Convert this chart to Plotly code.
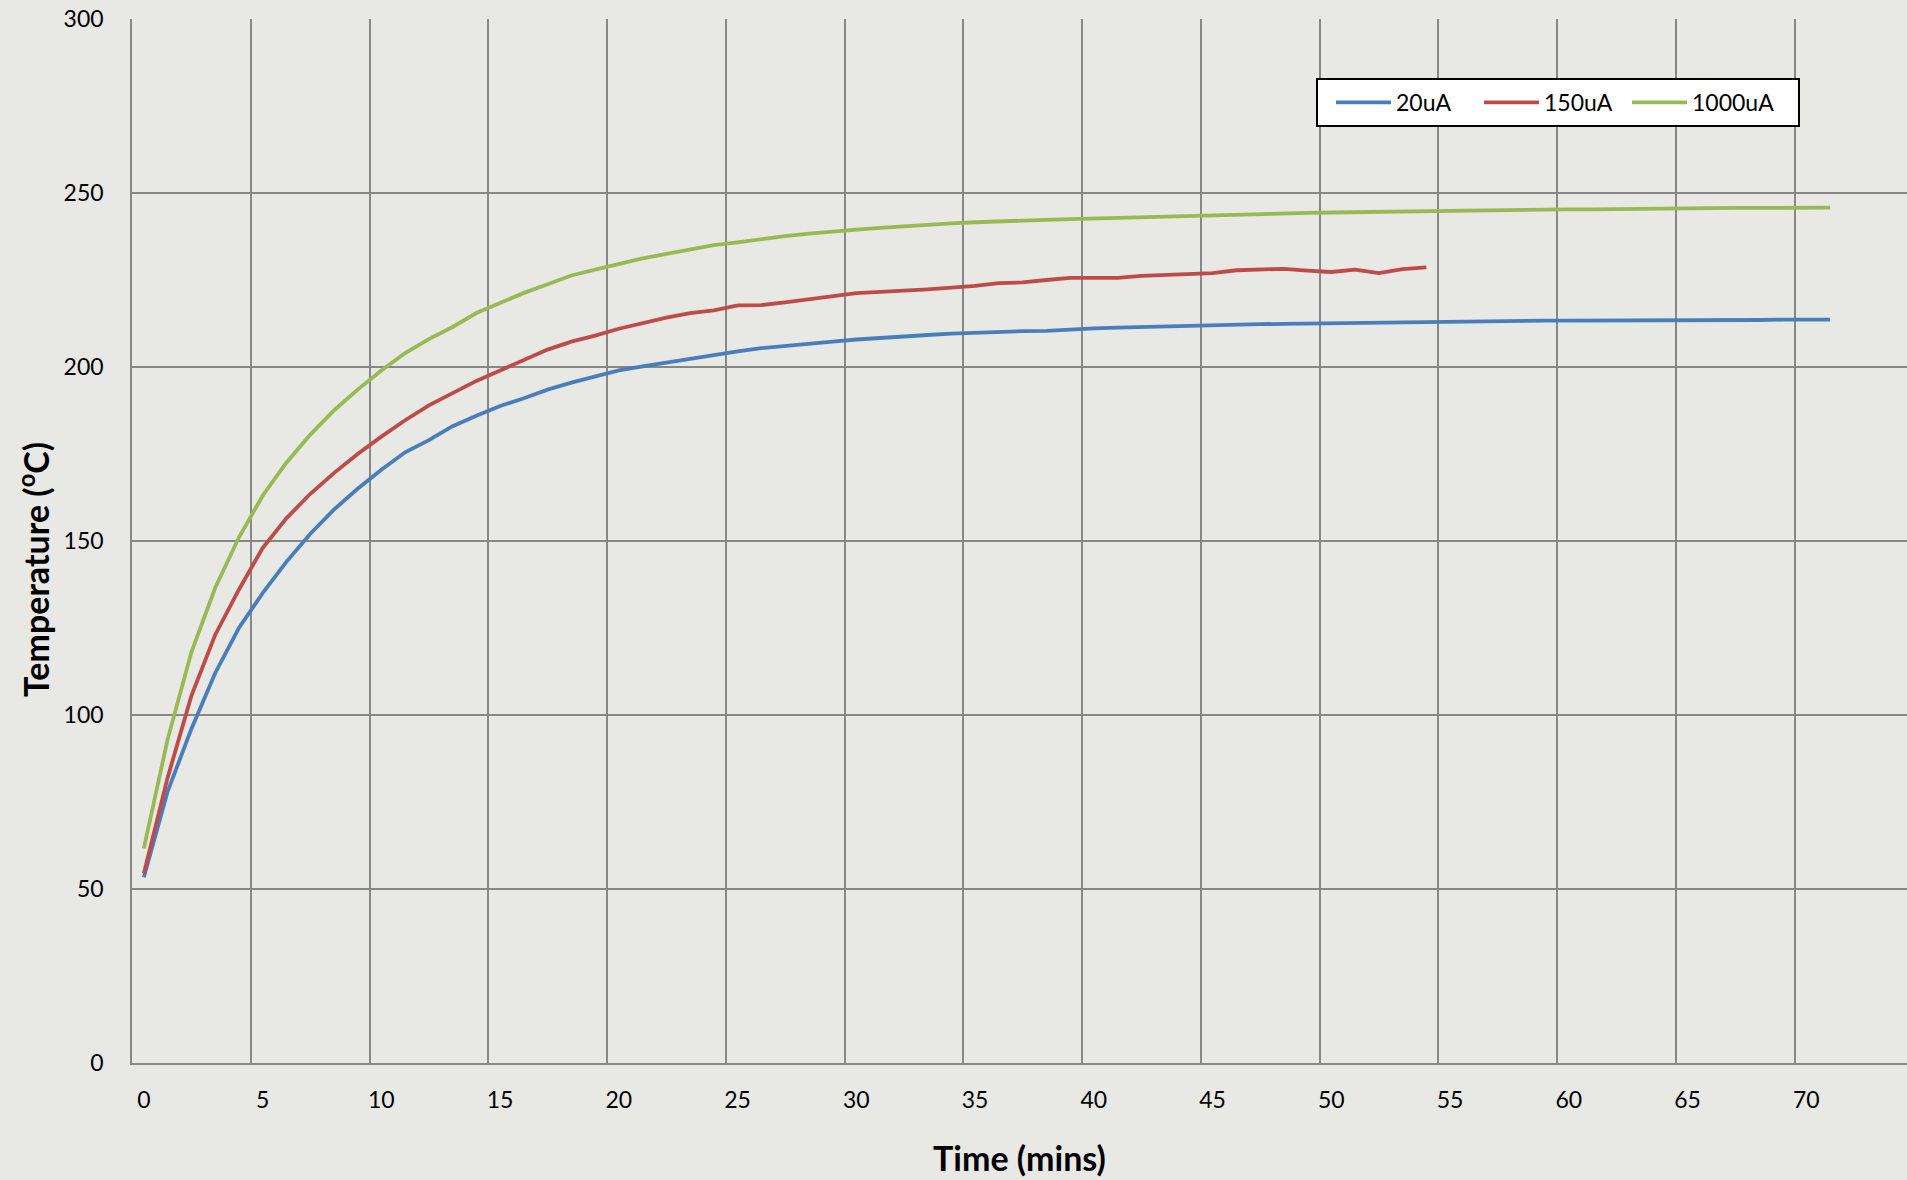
import plotly.graph_objects as go

minutes_20 = list(range(0, 72))
temp_20uA = [53.4, 78, 96, 112, 125, 135, 144, 152, 159, 165,
             170.5, 175.5, 179, 183, 186, 188.8, 191, 193.5, 195.5, 197.3,
             199, 200.2, 201.3, 202.5, 203.5, 204.5, 205.4, 206.1, 206.8, 207.3,
             207.9, 208.4, 208.8, 209.2, 209.6, 209.9, 210.1, 210.3, 210.4, 210.8,
             211.1, 211.3, 211.5, 211.7, 211.9, 212.1, 212.2, 212.3, 212.4, 212.5,
             212.6, 212.7, 212.8, 212.9, 212.9, 213.0, 213.0, 213.1, 213.2, 213.3,
             213.3, 213.3, 213.4, 213.4, 213.4, 213.5, 213.5, 213.5, 213.5, 213.6,
             213.6, 213.6]

minutes_150 = list(range(0, 55))
temp_150uA = [54.5, 82, 105.5, 123, 136, 148, 156.5, 163.5, 169.5, 175,
              180, 184.7, 189, 192.5, 196, 199, 202, 205, 207.3, 209,
              211, 212.7, 214.2, 215.5, 216.3, 217.7, 217.8, 218.6, 219.5, 220.3,
              221.2, 221.6, 221.9, 222.3, 222.8, 223.3, 224.1, 224.3, 225.0, 225.6,
              225.6, 225.6, 226.2, 226.4, 226.6, 227.0, 227.8, 228.1, 228.2, 227.7,
              227.3, 228.0, 227.0, 228.1, 228.6]

minutes_1000 = list(range(0, 72))
temp_1000uA = [61.7, 93, 118, 136.5, 151, 163, 172.5, 180.5, 187.5, 193.5,
               199, 204, 208, 211.5, 215.5, 218.5, 221.3, 223.8, 226.3, 228,
               229.6, 231.2, 232.5, 233.8, 235, 235.8, 236.8, 237.6, 238.3, 239,
               239.5, 240, 240.5, 240.9, 241.3, 241.6, 241.9, 242.1, 242.3, 242.5,
               242.7, 242.9, 243.1, 243.3, 243.5, 243.7, 243.8, 244, 244.1, 244.3,
               244.4, 244.5, 244.6, 244.8, 244.9, 245, 245, 245.1, 245.2, 245.2,
               245.3, 245.3, 245.4, 245.4, 245.5, 245.6, 245.6, 245.7, 245.7, 245.8,
               245.8, 245.8]

x_tick_values = list(range(0, 75, 5))
x_tick_labels = [str(v) for v in x_tick_values]
y_tick_values = [0, 50, 100, 150, 200, 250, 300]

series = [
    ("20uA", minutes_20, temp_20uA, "#4A7EBB"),
    ("150uA", minutes_150, temp_150uA, "#BE4B48"),
    ("1000uA", minutes_1000, temp_1000uA, "#98B954"),
]

BG = "#e8e8e5"
GRID = "#878787"
FONT = "Lato, 'Open Sans', sans-serif"

fig = go.Figure()
for name, xs, ys, color in series:
    fig.add_trace(go.Scatter(x=xs, y=ys, mode="lines", name=name,
                             line=dict(color=color, width=3.8)))

W, H = 1907, 1180
ml, mt, mb, mr = 132, 19, 117, 0
PW, PH = W - ml - mr, H - mt - mb
cat_px = 23.75
x_max = -0.5 + PW / cat_px


def px_x(p):
    return (p - ml) / PW


def px_y(p):
    return (H - mb - p) / PH


fig.update_layout(
    width=W, height=H,
    margin=dict(l=ml, r=mr, t=mt, b=mb, pad=0),
    paper_bgcolor=BG, plot_bgcolor=BG,
    font=dict(family=FONT, size=23, color="black"),
    showlegend=True,
    legend=dict(
        orientation="h",
        x=px_x(1331), y=px_y(81),
        xanchor="left", yanchor="top",
        bgcolor="rgba(0,0,0,0)", borderwidth=0,
        font=dict(family=FONT, size=23, color="black"),
        itemwidth=55,
        entrywidth=78, entrywidthmode="pixels",
    ),
    shapes=[dict(
        type="rect", xref="paper", yref="paper",
        x0=px_x(1317), x1=px_x(1799), y0=px_y(126), y1=px_y(79),
        fillcolor="white", line=dict(color="black", width=2), layer="above",
    )],
    xaxis=dict(
        range=[-0.5, x_max],
        tickmode="array", tickvals=x_tick_values, ticktext=x_tick_labels,
        showgrid=False, zeroline=False,
        showline=True, linecolor=GRID, linewidth=1.5,
        ticks="", ticklabelstandoff=16,
        tickfont=dict(family=FONT, size=23, color="black"),
        minor=dict(tickmode="linear", tick0=-0.5, dtick=5, showgrid=True,
                   gridcolor=GRID, gridwidth=1.5, ticks=""),
        title=dict(text="<b>Time (mins)</b>", font=dict(family=FONT, size=34, color="black"),
                   standoff=35),
    ),
    yaxis=dict(
        range=[0, 300],
        tickmode="array", tickvals=y_tick_values,
        showgrid=True, gridcolor=GRID, gridwidth=1.5, zeroline=False,
        showline=True, linecolor=GRID, linewidth=1.5,
        ticks="", ticklabelstandoff=22,
        tickfont=dict(family=FONT, size=23, color="black"),
    ),
    annotations=[dict(
        text="<b>Temperature (<sup>o</sup>C)</b>",
        xref="paper", yref="paper",
        x=px_x(34), y=px_y(570),
        xanchor="center", yanchor="middle", textangle=-90, showarrow=False,
        font=dict(family=FONT, size=34, color="black"),
    )],
)

fig.write_html(
    "out.html",
    config={"displayModeBar": False},
    post_script="document.body.style.margin='0';document.body.style.padding='0';"
                "document.body.style.background='" + BG + "';"
                "document.documentElement.style.overflow='hidden';",
)
